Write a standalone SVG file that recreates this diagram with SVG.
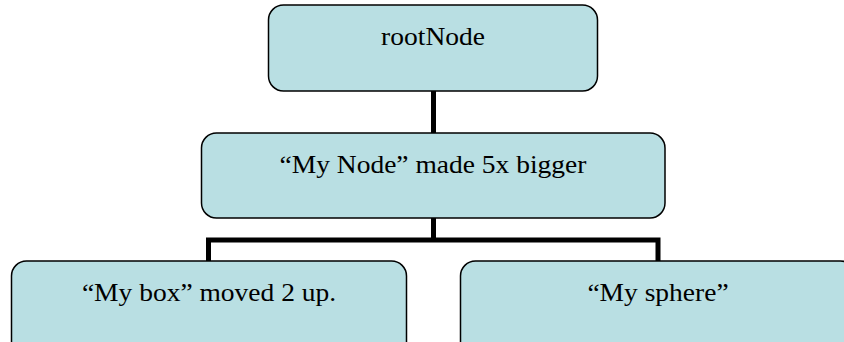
<svg xmlns="http://www.w3.org/2000/svg" width="844" height="342" viewBox="0 0 844 342">
  <style>
    .box { fill: #B9DFE3; stroke: #000000; stroke-width: 1.5; }
    .label { font-family: "Liberation Serif", "Times New Roman", serif; font-size: 25px; fill: #000000; text-anchor: middle; }
    .link { fill: none; stroke: #000000; stroke-width: 5; stroke-linejoin: miter; }
  </style>
  <rect x="0" y="0" width="844" height="342" fill="#FFFFFF"/>
  <g id="connectors">
    <line class="link" x1="433.5" y1="90" x2="433.5" y2="133"/>
    <polyline class="link" points="208.5,261 208.5,240 658,240 658,261"/>
    <line class="link" x1="433.5" y1="218" x2="433.5" y2="240"/>
  </g>
  <g id="rootNode">
    <rect class="box" x="268.5" y="5" width="329" height="86" rx="15" ry="15"/>
    <text class="label" transform="translate(433,45) scale(1.1,1)">rootNode</text>
  </g>
  <g id="myNode">
    <rect class="box" x="201.5" y="133" width="463.5" height="85" rx="15" ry="15"/>
    <text class="label" transform="translate(433,173) scale(1.1,1)">“My Node” made 5x bigger</text>
  </g>
  <g id="myBox">
    <rect class="box" x="11.5" y="261" width="395" height="100" rx="15" ry="15"/>
    <text class="label" transform="translate(209,301) scale(1.1,1)">“My box” moved 2 up.</text>
  </g>
  <g id="mySphere">
    <rect class="box" x="460.5" y="261" width="395" height="100" rx="15" ry="15"/>
    <text class="label" transform="translate(658,301) scale(1.1,1)">“My sphere”</text>
  </g>
</svg>
